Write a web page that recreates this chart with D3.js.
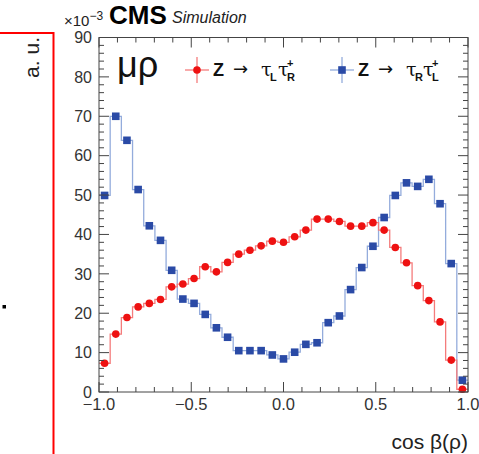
<!DOCTYPE html>
<html><head><meta charset="utf-8">
<script src="https://cdn.jsdelivr.net/npm/d3@7"></script>
<style>
html,body{margin:0;padding:0;background:#fff;}
svg{display:block;font-family:"Liberation Sans",Arial,Helvetica,sans-serif;}
</style></head>
<body><svg id="c" width="479" height="454"></svg>
<script>
// ---- data ----
const nBins = 33;
const xDomain = [-1, 1];
const yDomain = [0, 90];
const xTickValues = [-1.0, -0.5, 0.0, 0.5, 1.0];
const yTickValues = [0, 10, 20, 30, 40, 50, 60, 70, 80, 90];
const redLR = [7.3, 14.7, 18.9, 21.6, 22.5, 23.5, 26.7, 27.4, 28.8, 31.8, 30.5, 32.9, 35.0, 36.0, 37.1, 38.3, 38.0, 39.4, 41.1, 43.9, 43.9, 43.3, 42.1, 42.1, 43.0, 41.1, 36.7, 32.8, 27.0, 23.2, 17.8, 8.1, 0.7];
const blueRL = [49.9, 70.0, 63.9, 51.4, 42.2, 38.5, 30.9, 23.6, 22.5, 19.7, 16.3, 13.9, 10.5, 10.5, 10.5, 9.4, 8.4, 10.1, 12.1, 12.5, 17.6, 19.3, 26.0, 31.6, 37.0, 44.3, 49.9, 53.1, 52.2, 54.0, 47.8, 32.6, 3.0];
const statErr = 0.7;

const svg = d3.select("#c");
const L = 99, R = 468, T = 37.5, B = 392;
const x = d3.scaleLinear(xDomain, [L, R]);
const y = d3.scaleLinear(yDomain, [B, T]);
const bw = (xDomain[1] - xDomain[0]) / nBins;
const edge = i => xDomain[0] + i * bw;
const center = i => xDomain[0] + (i + 0.5) * bw;

const RED = "#ee1111", RED_L = "#f47c7c";
const BLUE = "#2a4aa6", BLUE_L = "#94acdc";
const AX = "#444";

// red frame decoration on left
svg.append("path").attr("d", "M0,33 H53.5 V454").attr("fill", "none").attr("stroke", "#ff0000").attr("stroke-width", 2);
svg.append("rect").attr("x", 2.5).attr("y", 305).attr("width", 3.5).attr("height", 3.5).attr("fill", "#000");
svg.append("text").attr("transform", "translate(39,37) rotate(-90)").attr("text-anchor", "end")
  .attr("font-size", 21).attr("fill", "#222").text("a. u.");

// series drawing
function drawSeries(vals, dark, light, shape) {
  const pts = [];
  vals.forEach((v, i) => { pts.push([edge(i), v]); pts.push([edge(i + 1), v]); });
  svg.append("path").datum(pts)
    .attr("d", d3.line().x(d => x(d[0])).y(d => y(d[1])))
    .attr("fill", "none").attr("stroke", light).attr("stroke-width", 1.3);
  const g = svg.append("g");
  g.selectAll("line").data(vals).join("line")
    .attr("x1", (d, i) => x(center(i))).attr("x2", (d, i) => x(center(i)))
    .attr("y1", d => y(Math.max(0, d - statErr))).attr("y2", d => y(d + statErr))
    .attr("stroke", light).attr("stroke-width", 1.3);
  if (shape === "circle") {
    g.selectAll("circle").data(vals).join("circle")
      .attr("cx", (d, i) => x(center(i))).attr("cy", d => y(d)).attr("r", 3.8).attr("fill", dark);
  } else {
    g.selectAll("rect").data(vals).join("rect")
      .attr("x", (d, i) => x(center(i)) - 3.8).attr("y", d => y(d) - 3.8)
      .attr("width", 7.6).attr("height", 7.6).attr("fill", dark);
  }
}
drawSeries(blueRL, BLUE, BLUE_L, "square");
drawSeries(redLR, RED, RED_L, "circle");

// frame + ticks
svg.append("rect").attr("x", L).attr("y", T).attr("width", R - L).attr("height", B - T)
  .attr("fill", "none").attr("stroke", AX).attr("stroke-width", 1);
const xMinor = d3.range(-10, 11).map(k => k / 10);
const yMinor = d3.range(0, 91, 2);
const tg = svg.append("g").attr("stroke", AX).attr("stroke-width", 1);
xMinor.forEach(v => {
  const major = Math.abs(v * 2 - Math.round(v * 2)) < 1e-6;
  const len = major ? 10 : 5;
  tg.append("line").attr("x1", x(v)).attr("x2", x(v)).attr("y1", B).attr("y2", B - len);
  tg.append("line").attr("x1", x(v)).attr("x2", x(v)).attr("y1", T).attr("y2", T + len);
});
yMinor.forEach(v => {
  const major = v % 10 === 0;
  const len = major ? 10 : 5;
  tg.append("line").attr("x1", L).attr("x2", L + len).attr("y1", y(v)).attr("y2", y(v));
  tg.append("line").attr("x1", R).attr("x2", R - len).attr("y1", y(v)).attr("y2", y(v));
});

// tick labels
const fmt = d3.format(".1f");
svg.append("g").selectAll("text").data(xTickValues).join("text")
  .attr("x", d => x(d)).attr("y", 410).attr("text-anchor", "middle")
  .attr("font-size", 16.5).attr("fill", "#333").text(d => fmt(d));
svg.append("g").selectAll("text").data(yTickValues).join("text")
  .attr("x", 92).attr("y", d => y(d) + 5.8).attr("text-anchor", "end")
  .attr("font-size", 16).attr("fill", "#333").text(d => d);

// axis title
svg.append("text").attr("x", 468).attr("y", 449).attr("text-anchor", "end")
  .attr("font-size", 21).attr("fill", "#222").text("cos β(ρ)");

// header
const h = svg.append("text").attr("x", 64).attr("y", 26).attr("font-size", 15).attr("fill", "#222");
h.append("tspan").text("×10");
h.append("tspan").attr("dy", -6).attr("font-size", 12).text("−3");
svg.append("text").attr("x", 109).attr("y", 24).attr("font-size", 26).attr("font-weight", "bold").attr("fill", "#000").text("CMS");
svg.append("text").attr("x", 172).attr("y", 23).attr("font-size", 16).attr("font-style", "italic").attr("fill", "#222").text("Simulation");

// channel label
svg.append("text").attr("x", 117).attr("y", 77).attr("font-size", 36).attr("fill", "#111").text("μρ");

// legend
function legendEntry(cx, dark, light, shape, sub1, sub2) {
  const cy = 70;
  svg.append("line").attr("x1", cx - 12).attr("x2", cx + 12).attr("y1", cy).attr("y2", cy).attr("stroke", light).attr("stroke-width", 1.3);
  svg.append("line").attr("x1", cx).attr("x2", cx).attr("y1", cy - 13).attr("y2", cy + 13).attr("stroke", light).attr("stroke-width", 1.3);
  if (shape === "circle") svg.append("circle").attr("cx", cx).attr("cy", cy).attr("r", 3.8).attr("fill", dark);
  else svg.append("rect").attr("x", cx - 3.8).attr("y", cy - 3.8).attr("width", 7.6).attr("height", 7.6).attr("fill", dark);
  const x0 = cx + 16;
  const base = cy + 6;
  const g = svg.append("g").attr("fill", "#111");
  g.append("text").attr("x", x0).attr("y", base).attr("font-size", 18).attr("font-weight", "bold").text("Z");
  g.append("text").attr("x", x0 + 20).attr("y", base - 1).attr("font-size", 18).attr("font-family", "DejaVu Sans").text("→");
  g.append("text").attr("x", x0 + 48).attr("y", base).attr("font-size", 19).attr("font-family", "DejaVu Serif").text("τ");
  g.append("text").attr("x", x0 + 57).attr("y", base + 5).attr("font-size", 11).attr("font-weight", "bold").text(sub1);
  g.append("text").attr("x", x0 + 65).attr("y", base).attr("font-size", 19).attr("font-family", "DejaVu Serif").text("τ");
  g.append("text").attr("x", x0 + 74).attr("y", base - 9).attr("font-size", 11).attr("font-weight", "bold").text("+");
  g.append("text").attr("x", x0 + 74).attr("y", base + 5).attr("font-size", 11).attr("font-weight", "bold").text(sub2);
}
legendEntry(197, RED, RED_L, "circle", "L", "R");
legendEntry(342, BLUE, BLUE_L, "square", "R", "L");
</script></body></html>
